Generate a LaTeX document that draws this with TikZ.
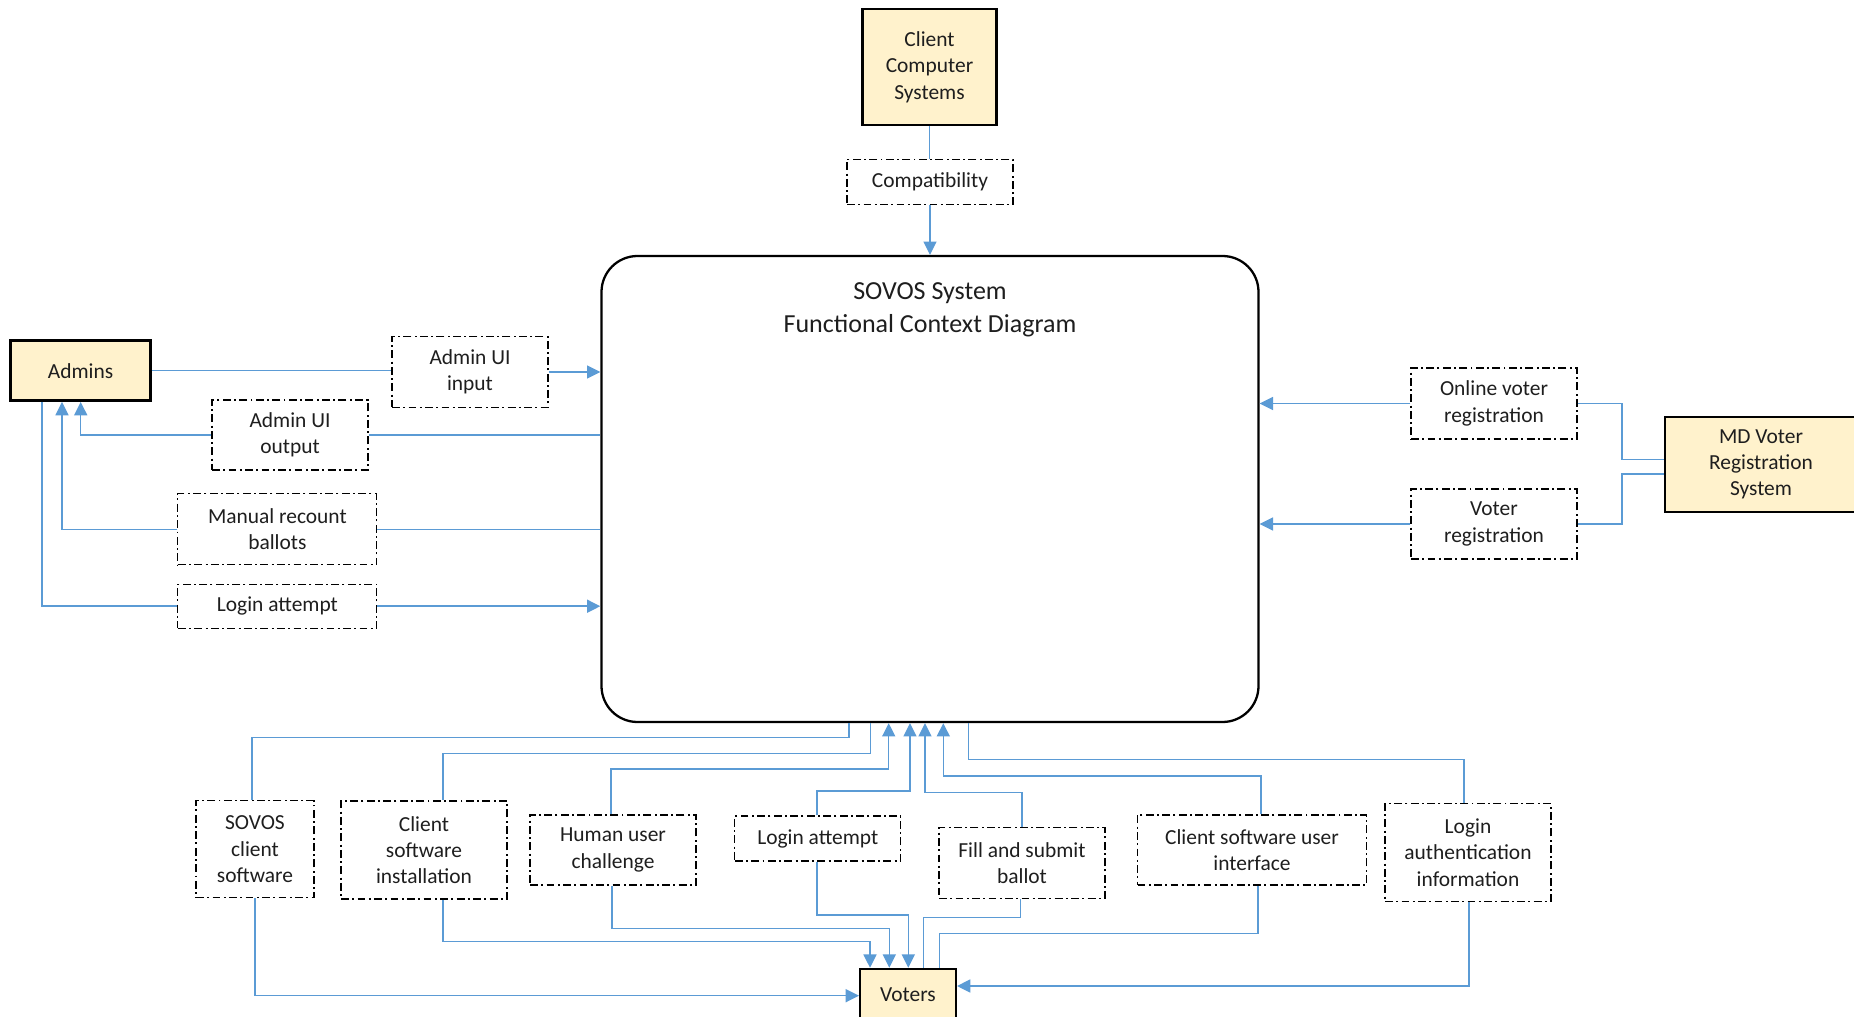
\documentclass[tikz,border=0pt]{standalone}
\usepackage{fontspec}
\setmainfont{Carlito}
\usetikzlibrary{arrows.meta}
\definecolor{linkblue}{RGB}{91,155,213}
\definecolor{actorfill}{RGB}{255,242,204}
\definecolor{inktext}{RGB}{30,30,30}

\begin{document}
\begin{tikzpicture}[x=0.02cm,y=-0.02cm,
  wh/.style 2 args={minimum width=#1*0.02cm,minimum height=#2*0.02cm},
  actor/.style={draw=black,line width=1.4pt,fill=actorfill,inner sep=0pt,align=center,
    text=inktext,font=\fontsize{12.2}{15}\selectfont},
  flow/.style={draw=black,line width=0.6pt,dash pattern=on 4.5pt off 1.9pt on 1.1pt off 1.9pt,
    inner sep=0pt,align=center,text=inktext,font=\fontsize{12.2}{15}\selectfont},
  link/.style={draw=linkblue,line width=0.9pt},
  feed/.style={link,-{Triangle[length=7.6pt,width=7.4pt]}},
]
\useasboundingbox (0,0) rectangle (1854,1017);
\fill[white] (0,0) rectangle (1854,1017);

% system under study
\node[draw=black,line width=1.3pt,rounded corners=0.72cm,wh={657}{466},inner sep=0pt] (main) at (930,489) {};
\node[font=\fontsize{14.8}{18.7}\selectfont,align=center,text=inktext] (title) at (930,310)
  {SOVOS System\\Functional Context Diagram};

% top
\node[actor,wh={134}{116}] (ccs) at (929.5,67) {Client\\Computer\\Systems};
\node[flow,wh={166}{45}] (compat) at (930,182) {Compatibility};

% left
\node[actor,wh={140}{60}] (admins) at (80.6,370.7) {Admins};
\node[flow,wh={156}{70.6}] (auiin) at (470,372) {Admin UI\\input};
\node[flow,wh={156}{70}] (auiout) at (290,435) {Admin UI\\output};
\node[flow,wh={199}{71}] (manual) at (277.4,529.3) {Manual recount\\ballots};
\node[flow,wh={199}{44}] (loginL) at (277.4,606.2) {Login attempt};

% right
\node[flow,wh={166}{71}] (onreg) at (1494,403.5) {Online voter\\registration};
\node[flow,wh={166}{70}] (vreg) at (1494,524) {Voter\\registration};
\node[actor,wh={192}{95}] (md) at (1761,464.4) {MD Voter\\Registration\\System};

% bottom
\node[flow,wh={118}{97}] (sovcs) at (255,849.4) {SOVOS\\client\\software};
\node[flow,wh={166}{98}] (csinst) at (424,850) {Client\\software\\installation};
\node[flow,wh={166}{70}] (huc) at (613,850) {Human user\\challenge};
\node[flow,wh={166}{45}] (loginB) at (817.8,838.5) {Login attempt};
\node[flow,wh={166}{70.6}] (fsb) at (1022,863) {Fill and submit\\ballot};
\node[flow,wh={229}{70}] (csui) at (1252,850) {Client software user\\interface};
\node[flow,wh={166}{98}] (lai) at (1468,852.5) {Login\\authentication\\information};
\node[actor,wh={95.5}{51}] (voters) at (908,994.5) {Voters};

% top connectors
\draw[link] (ccs.south) -- (ccs.south |- compat.north);
\draw[feed] (compat.south) -- (compat.south |- main.north);

% admin connectors
\draw[link] (admins.east) -- (admins.east -| auiin.west);
\draw[feed] (auiin.east) -- (auiin.east -| main.west);
\draw[link] (main.west |- auiout.east) -- (auiout.east);
\draw[feed] (auiout.west) -| (admins.south -| 80.7,0);
\draw[link] (main.west |- manual.east) -- (manual.east);
\draw[feed] (manual.west) -| (admins.south -| 62,0);
\draw[link] (admins.south -| 42,0) |- (loginL.west);
\draw[feed] (loginL.east) -- (loginL.east -| main.west);

% voter registration connectors
\draw[feed] (onreg.west) -- (onreg.west -| main.east);
\draw[feed] (vreg.west) -- (vreg.west -| main.east);
\draw[link] (onreg.east) -| (1622,459.3) -- (md.west |- 0,459.3);
\draw[link] (vreg.east) -| (1622,474) -- (md.west |- 0,474);

% voter flows, system side
\draw[link] (main.south -| 849,0) |- (252,737.7) -- (sovcs.north -| 252,0);
\draw[link] (main.south -| 870.3,0) |- (443,753.7) -- (csinst.north -| 443,0);
\draw[feed] (huc.north -| 611,0) |- (888.7,769) -- (main.south -| 888.7,0);
\draw[feed] (loginB.north -| 817,0) |- (910,791) -- (main.south -| 910,0);
\draw[feed] (fsb.north) |- (925,792.3) -- (main.south -| 925,0);
\draw[feed] (csui.north -| 1261,0) |- (943.3,776) -- (main.south -| 943.3,0);
\draw[link] (main.south -| 968.7,0) |- (1464,759.3) -- (lai.north -| 1464,0);

% voter flows, voter side
\draw[feed] (sovcs.south) |- (voters.west |- 0,995.7);
\draw[feed] (csinst.south -| 443,0) |- (870,941.7) -- (voters.north -| 870,0);
\draw[feed] (huc.south -| 612,0) |- (889.3,928.3) -- (voters.north -| 889.3,0);
\draw[feed] (loginB.south -| 817,0) |- (908.3,915) -- (voters.north -| 908.3,0);
\draw[link] (voters.north -| 923.3,0) |- (1020.5,917.3) -- (fsb.south -| 1020.5,0);
\draw[link] (voters.north -| 939.3,0) |- (1258,933.3) -- (csui.south -| 1258,0);
\draw[feed] (lai.south -| 1468.7,0) |- (voters.east |- 0,986);
\end{tikzpicture}
\end{document}
